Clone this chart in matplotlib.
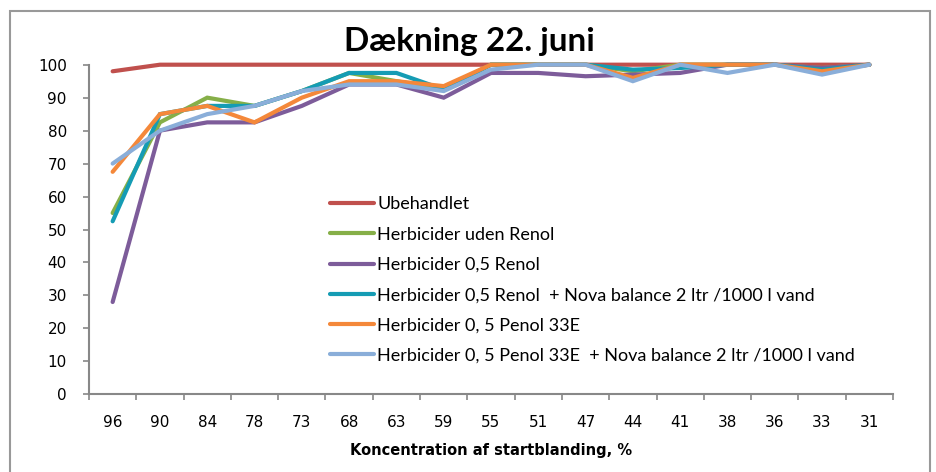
import numpy as np
import matplotlib
matplotlib.use("Agg")
import matplotlib.pyplot as plt
from matplotlib.patches import Rectangle

# data
koncentration = ['96', '90', '84', '78', '73', '68', '63', '59', '55',
                 '51', '47', '44', '41', '38', '36', '33', '31']

ubehandlet = [98, 100, 100, 100, 100, 100, 100, 100, 100, 100, 100, 100, 100, 100, 100, 100, 100]
uden_renol = [55, 82.5, 90, 87.5, 92, 97.5, 95, 92.5, 100, 100, 100, 98, 100, 100, 100, 99, 100]
renol = [28, 80, 82.5, 82.5, 87.5, 94, 94, 90, 97.5, 97.5, 96.5, 97, 97.5, 100, 100, 99, 100]
renol_nova = [52.5, 85, 87.5, 87.5, 92, 97.5, 97.5, 92.5, 100, 100, 100, 98.5, 99, 100, 100, 98.5, 100]
penol = [67.5, 85, 87.5, 82.5, 90, 95, 95, 93.5, 100, 100, 100, 96, 100, 100, 100, 98, 100]
penol_nova = [70, 80, 85, 87.5, 92, 94, 94, 92, 98.5, 100, 100, 95, 100, 97.5, 100, 97, 100]

labels = ['Ubehandlet',
          'Herbicider uden Renol',
          'Herbicider 0,5 Renol',
          'Herbicider 0,5 Renol  + Nova balance 2 ltr /1000 l vand',
          'Herbicider 0, 5 Penol 33E',
          'Herbicider 0, 5 Penol 33E  + Nova balance 2 ltr /1000 l vand']
colors = ['#C0504D', '#86AF48', '#7D5C9A', '#159CB4', '#F4883A', '#8AAED9']
series = [ubehandlet, uden_renol, renol, renol_nova, penol, penol_nova]

fig = plt.figure(figsize=(9.37, 4.72), dpi=100)
ax = fig.add_axes([89/937, 1 - 394.3/472, (893 - 89)/937, (394.3 - 64.7)/472])

x = np.arange(len(koncentration))
for ys, lab, col in zip(series, labels, colors):
    ax.plot(x, ys, color=col, lw=3, label=lab, solid_capstyle='round',
            solid_joinstyle='miter', clip_on=False)

ax.set_xlim(-0.5, len(koncentration) - 0.5)
ax.set_ylim(0, 100)
ax.set_yticks(range(0, 101, 10))
ax.set_xticks(x)
ax.set_xticklabels(koncentration)
ax.set_xticks(np.arange(-0.5, len(koncentration), 1), minor=True)
ax.tick_params(axis='x', which='major', length=0, pad=15, labelsize=11)
ax.tick_params(axis='x', which='minor', length=4, color='#888888', width=1.2)
ax.tick_params(axis='y', length=4, color='#888888', width=1.2, pad=12, labelsize=11)

for s in ['top', 'right']:
    ax.spines[s].set_visible(False)
for s in ['left', 'bottom']:
    ax.spines[s].set_color('#888888')
    ax.spines[s].set_linewidth(1.5)

ax.set_xlabel('Koncentration af startblanding, %', fontsize=10.5, fontweight='bold', labelpad=9)
fig.text(0.501, 0.912, 'Dækning 22. juni', ha='center', va='center',
         fontsize=24, fontweight='bold', family='Lato')

leg = ax.legend(loc='upper left', bbox_to_anchor=(0.289, 0.628), frameon=False,
                handlelength=2.4, handletextpad=0.2, labelspacing=0.79,
                borderpad=0, prop={'family': 'Lato', 'size': 13})

# outer chart border
fig.patches.append(Rectangle((10/937, -0.05), 920/937, 1.05 - 11/472,
                             transform=fig.transFigure, fill=False,
                             edgecolor='#999999', lw=1.5))

fig.savefig('out.png', dpi=100)
